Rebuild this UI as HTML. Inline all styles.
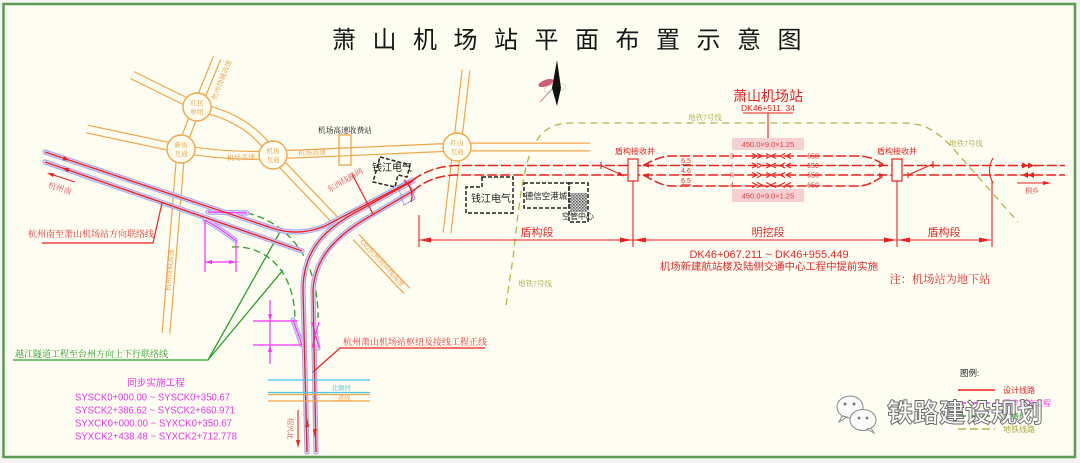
<!DOCTYPE html>
<html><head><meta charset="utf-8">
<style>
html,body{margin:0;padding:0;background:#f4f5f0;width:1080px;height:463px;overflow:hidden;}
svg{display:block;}
text{font-family:"Liberation Sans","Noto Sans CJK SC",sans-serif;}
.f{font-family:"Liberation Serif","Noto Serif CJK SC",serif;}
</style></head><body>
<svg width="1080" height="463" viewBox="0 0 1080 463" xmlns="http://www.w3.org/2000/svg">
<defs>
<path id="r1" d="M217,58 L197,107 L181,149 L166,333"/>
<path id="r2" d="M132,75 L197,107"/>
<path id="r3" d="M87,129 L181,149"/>
<path id="r4" d="M181,149 Q228,157 273,155"/>
<path id="r5" d="M197,107 Q250,118 273,155"/>
<path id="r6" d="M273,155 L457,147"/>
<path id="r7" d="M457,147 L590,147"/>
<path id="r8" d="M466,70 L447,233"/>
<path id="r9" d="M273,155 L335,220"/>
<path id="r10" d="M356,237 L407,291"/>
<path id="t1" d="M45,152 L272,228 Q298,237 325,226 L413,180"/>
<path id="t2" d="M45,162 L302,251"/>
<path id="t3" d="M413,181 L360,210 C325,228 303,250 303,290 L307,452"/>
<path id="t4" d="M413,191 L372,215 C335,236 315,258 313,290 L316,452"/>
<path id="t5" d="M208,212 L247,213"/>
<path id="t6" d="M205,220 Q220,228 235,240"/>
<path id="t7" d="M293,320 L302,345"/>
<path id="t8" d="M313,322 L318,348"/>
<pattern id="hatch" width="3" height="3" patternUnits="userSpaceOnUse">
<rect width="3" height="3" fill="#d8d8d8"/><rect width="1.5" height="1.5" fill="#555"/><rect x="1.5" y="1.5" width="1.5" height="1.5" fill="#777"/>
</pattern>
</defs>

<rect x="0" y="0" width="1080" height="463" fill="#f4f5f0"/>
<rect x="3.5" y="4" width="1071.5" height="453" fill="#fdfdf1" stroke="#5b9b52" stroke-width="2.5"/>

<!-- title -->
<text x="332" y="48" font-size="24" letter-spacing="16.5" fill="#161616">萧山机场站平面布置示意图</text>

<!-- north arrow -->
<ellipse cx="555" cy="88" rx="11" ry="4" fill="none" stroke="#cfcfcf" stroke-width="0.8" transform="rotate(-10 555 88)"/>
<ellipse cx="546" cy="83" rx="8" ry="3.2" fill="#d0607a" transform="rotate(-20 546 83)"/>
<line x1="540" y1="102" x2="553" y2="88" stroke="#c98a9a" stroke-width="1"/>
<polygon points="557,60 552,88 557,106 561,88" fill="#111"/>

<!-- olive metro line 7 -->
<g fill="none" stroke="#b5b54a" stroke-width="1.3" stroke-dasharray="7 5">
<path d="M506,305 L513,258 C518,215 522,165 535,143 C543,130 552,123 572,123 L905,123 C925,124 935,130 950,145 L1018,222"/>
</g>
<text class="f" x="705" y="120" font-size="7.5" fill="#a8a840" text-anchor="middle">地铁7号线</text>
<text class="f" x="966" y="146" font-size="7.5" fill="#a8a840" text-anchor="middle">地铁7号线</text>
<text class="f" x="535" y="286" font-size="7.5" fill="#a8a840" text-anchor="middle">地铁7号线</text>

<!-- roads -->
<g fill="none" stroke="#f1a64a" stroke-width="9">
<use href="#r1"/><use href="#r2"/><use href="#r3"/><use href="#r4"/><use href="#r5"/>
<use href="#r6"/><use href="#r7"/><use href="#r8"/><use href="#r9"/><use href="#r10"/>
</g>
<g fill="none" stroke="#fdfdf1" stroke-width="6.6">
<use href="#r1"/><use href="#r2"/><use href="#r3"/><use href="#r4"/><use href="#r5"/>
<use href="#r6"/><use href="#r7"/><use href="#r8"/><use href="#r9"/><use href="#r10"/>
</g>
<g fill="#fdfdf1" stroke="#f1a64a" stroke-width="1.4">
<circle cx="197" cy="107" r="14"/>
<circle cx="181" cy="149" r="14"/>
<circle cx="273" cy="155" r="14"/>
<circle cx="457" cy="147" r="14"/>
</g>
<rect x="339" y="135" width="12" height="30" fill="none" stroke="#f1a64a" stroke-width="1.3"/>
<g fill="#e99a3a" font-size="6.5" text-anchor="middle">
<text x="197" y="105" class="f">红民</text><text x="197" y="114" class="f">枢纽</text>
<text x="181" y="147" class="f">新街</text><text x="181" y="156" class="f">互通</text>
<text x="273" y="153" class="f">机场</text><text x="273" y="162" class="f">互通</text>
<text x="457" y="145" class="f">红山</text><text x="457" y="154" class="f">互通</text>
<text x="241" y="160" font-size="7" transform="rotate(-2 241 158)" class="f">机场高速</text>
<text x="312" y="155" font-size="7" transform="rotate(-3 312 153)" class="f">机场高速</text>
<text x="222" y="82" font-size="7" transform="rotate(-68 222 80)" class="f">杭州绕城高速</text>
<text x="170" y="272" font-size="7" transform="rotate(-85 170 270)" class="f">杭州绕城高速</text>
<text x="382" y="265" font-size="7" transform="rotate(47 382 263)" class="f">G02杭州湾环线高速</text>
</g>
<text class="f" x="318" y="133" font-size="7.7" fill="#111">机场高速收费站</text>

<!-- buildings -->
<g fill="none" stroke="#222" stroke-width="1.5" stroke-dasharray="4 2">
<polygon points="380,157 410,165 407,177 398,175 395,187 373,182"/>
<polygon points="482,177 513,177 513,213 466,213 466,187 482,187"/>
<rect x="524" y="183" width="45" height="25"/>
<rect x="569" y="183" width="19" height="39"/>
</g>
<rect x="570" y="193" width="17" height="19" fill="url(#hatch)"/>
<g fill="#222" text-anchor="middle">
<text x="392" y="171" font-size="10">钱江电气</text>
<text x="491" y="202" font-size="10">钱江电气</text>
<text x="546" y="199" font-size="8.5">德信空港城</text>
<text x="578" y="219" font-size="8">空管中心</text>
</g>

<!-- green link lines -->
<g stroke="#2c9e2c" fill="none" stroke-width="1.3">
<path d="M13,360 L208,360 L280,232 M208,360 L283,270"/>
<path d="M247,213 C285,222 318,255 318,318" stroke-dasharray="7 4"/>
<path d="M232,247 C265,245 295,270 295,320" stroke-dasharray="7 4"/>
</g>
<text class="f" x="15" y="357" font-size="9" fill="#2a9a2a">越江隧道工程至台州方向上下行联络线</text>

<!-- blue halos -->
<g fill="none" stroke="#a9a9ee" stroke-width="5.2" stroke-linecap="round">
<use href="#t1"/><use href="#t2"/><use href="#t3"/><use href="#t4"/>
<use href="#t5"/><use href="#t6"/><use href="#t7"/><use href="#t8"/>
</g>
<g fill="none" stroke="#dcdcfa" stroke-width="3" stroke-linecap="round">
<use href="#t1"/><use href="#t2"/><use href="#t3"/><use href="#t4"/>
<use href="#t5"/><use href="#t6"/><use href="#t7"/><use href="#t8"/>
</g>
<polygon points="398,186 409,180 415,199 404,205" fill="none" stroke="#9c9cf0" stroke-width="1"/>

<!-- magenta -->
<g stroke="#ff30ff" fill="none" stroke-width="1.2">
<path d="M208,212 L247,213 M205,220 Q220,228 235,240"/>
<path d="M205,220 L205,272 M236,240 L236,272 M205,262 L236,262"/>
<path d="M293,320 L302,345 M312,322 L319,348 M319,322 L312,348"/>
<path d="M253,321 L297,321 M253,345 L302,345 M270,300 L270,364"/>
</g>
<g fill="#ff30ff">
<polygon points="205,262 212,260 212,264"/>
<polygon points="236,262 229,260 229,264"/>
<polygon points="270,321 268,314 272,314"/>
<polygon points="270,345 268,352 272,352"/>
</g>

<!-- red tracks -->
<g fill="none" stroke="#ee2020" stroke-width="1.4">
<use href="#t1"/><use href="#t2"/><use href="#t3"/><use href="#t4"/>
<path d="M404,180 Q415,190 411,202" stroke-width="1.3"/>
<path d="M352,174 L373,214" stroke-width="1.2"/>
</g>
<g fill="none" stroke="#ee2020" stroke-width="1.5" stroke-dasharray="10 3">
<path d="M413,180 Q430,167 455,165.5 L1065,165.5"/>
<path d="M413,191 Q430,176 455,175 L1065,175"/>
<path d="M643,165.5 C655,159 662,156 672,156 L858,156 C868,156 875,159 885,165.5"/>
<path d="M643,175 C655,181 662,186 672,186 L858,186 C868,186 875,181 885,175"/>
</g>
<g fill="#ee2020">
<polygon points="0,0 -7,-2.2 -7,2.2" transform="translate(70,160.4) rotate(18.5)"/>
<polygon points="0,0 7,-2.2 7,2.2" transform="translate(62,167.9) rotate(19)"/>
<polygon points="307,418 305,427 309,427"/>
<polygon points="315,438 313,429 317,429"/>
</g>

<!-- station -->
<rect x="732" y="138" width="72" height="12" fill="#f6cfd2"/>
<rect x="732" y="189" width="72" height="13" fill="#f6cfd2"/>
<g fill="#e04040" font-size="7.5" text-anchor="middle">
<text x="768" y="147">450.0×9.0×1.25</text>
<text x="768" y="198.5">450.0×9.0×1.25</text>
</g>
<rect x="628" y="159" width="10" height="22" fill="#fdfdf1" stroke="#ee2020" stroke-width="1.2"/>
<rect x="892" y="159" width="10" height="22" fill="#fdfdf1" stroke="#ee2020" stroke-width="1.2"/>
<g stroke="#ee2020" fill="none" stroke-width="1.1">
<polyline points="752,153.5 757,156 752,158.5"/><polyline points="757,153.5 762,156 757,158.5"/>
<polyline points="752,163 757,165.5 752,168"/><polyline points="757,163 762,165.5 757,168"/>
<polyline points="752,172.5 757,175 752,177.5"/><polyline points="757,172.5 762,175 757,177.5"/>
<polyline points="752,182.5 757,185 752,187.5"/><polyline points="757,182.5 762,185 757,187.5"/>
<path d="M766,153.5 L776,158.5 M766,158.5 L776,153.5 M766,163 L776,168 M766,168 L776,163 M766,172.5 L776,177.5 M766,177.5 L776,172.5 M766,182.5 L776,187.5 M766,187.5 L776,182.5"/>
<polyline points="785,153.5 780,156 785,158.5"/><polyline points="791,153.5 786,156 791,158.5"/>
<polyline points="785,163 780,165.5 785,168"/><polyline points="791,163 786,165.5 791,168"/>
<polyline points="785,172.5 780,175 785,177.5"/><polyline points="791,172.5 786,175 791,177.5"/>
<polyline points="785,182.5 780,185 785,187.5"/><polyline points="791,182.5 786,185 791,187.5"/>
<path d="M768,113 L768,138 M743,113 L793,113"/>
<path d="M633,181 L633,247 M897,181 L897,247 M992,182 L992,247 M419,215 L419,247"/>
<path d="M419,240 L991,240"/>
<path d="M601,162 L601,169 M601,165.5 L624,176"/>
<path d="M908,175 L933,164 M908,172 L908,178 M933,161 L933,168"/>
<path d="M993,158 Q986,170 993,183"/>
<path d="M1017,183 L1048,183"/>
</g>
<g fill="#ee2020">
<polygon points="643,165.5 649,163.5 649,167.5"/><polygon points="643,175 649,173 649,177"/>
<polygon points="885,165.5 879,163.5 879,167.5"/><polygon points="885,175 879,173 879,177"/>
<polygon points="624,176 617,175.5 619,171.5"/>
<polygon points="419,240 431,237.5 431,242.5"/>
<polygon points="632,240 620,237.5 620,242.5"/>
<polygon points="634,240 646,237.5 646,242.5"/>
<polygon points="896,240 884,237.5 884,242.5"/>
<polygon points="898,240 910,237.5 910,242.5"/>
<polygon points="991,240 979,237.5 979,242.5"/>
<polygon points="1022,162.5 1028,165.5 1022,168.5"/><polygon points="1028,162.5 1034,165.5 1028,168.5"/>
<polygon points="1028,172 1022,175 1028,178"/><polygon points="1034,172 1028,175 1034,178"/>
<polygon points="1051,183 1043,181 1043,185"/>
</g>
<g fill="#e63030" font-size="7">
<text x="686" y="163" text-anchor="middle" text-decoration="underline">6.5</text>
<text x="686" y="173" text-anchor="middle" text-decoration="underline">4.6</text>
<text x="686" y="183" text-anchor="middle" text-decoration="underline">6.5</text>
<text x="732" y="158.5" text-anchor="middle">3</text>
<text x="732" y="168" text-anchor="middle">I</text>
<text x="732" y="177.5" text-anchor="middle">II</text>
<text x="732" y="187.5" text-anchor="middle">4</text>
<text x="813" y="158.5" text-anchor="middle">650</text>
<text x="813" y="168" text-anchor="middle">650</text>
<text x="813" y="177.5" text-anchor="middle">650</text>
<text x="813" y="187.5" text-anchor="middle">650</text>
</g>
<text x="768" y="101" font-size="14" fill="#e52222" text-anchor="middle">萧山机场站</text>
<text x="768" y="111" font-size="8.5" fill="#e52222" text-anchor="middle">DK46+511. 34</text>
<text x="635" y="154" font-size="8" fill="#e52222" text-anchor="middle">盾构接收井</text>
<text x="897" y="154" font-size="8" fill="#e52222" text-anchor="middle">盾构接收井</text>
<text class="f" x="1032" y="193" font-size="7" fill="#e04040" text-anchor="middle">桐乡</text>

<g fill="#e52a2a" text-anchor="middle">
<text x="537" y="236" font-size="11">盾构段</text>
<text x="768" y="236" font-size="11">明挖段</text>
<text x="944" y="236" font-size="11">盾构段</text>
<text x="769" y="258" font-size="11">DK46+067.211 ~ DK46+955.449</text>
<text x="769" y="270" font-size="10.4">机场新建航站楼及陆侧交通中心工程中提前实施</text>
<text class="f" x="940" y="283" font-size="11.2">注：机场站为地下站</text>
</g>

<!-- left red labels -->
<text class="f" x="28" y="237" font-size="9" fill="#e03535">杭州南至萧山机场站方向联络线</text>
<path d="M42,243 L153,243 L162,203" fill="none" stroke="#ee2020" stroke-width="1.2"/>
<path d="M49,173.6 L75,182" fill="none" stroke="#ee2020" stroke-width="1.1"/>
<polygon points="0,0 7,-2 7,2" transform="translate(47,173) rotate(18)" fill="#ee2020"/>
<text class="f" x="60" y="191" font-size="8" fill="#e04a5a" text-anchor="middle" transform="rotate(18 60 188)">杭州南</text>
<text class="f" x="345" y="183" font-size="8" fill="#e84a5a" text-anchor="middle" transform="rotate(-30 345 180)">东西线路网</text>
<text class="f" x="343" y="345" font-size="9" fill="#e03535">杭州萧山机场站枢纽及接线工程正线</text>
<path d="M313,372 L340,348 L485,348" fill="none" stroke="#ee2020" stroke-width="1.2"/>
<path d="M298,410 L298,441" stroke="#ee2020" stroke-width="1.1"/>
<polygon points="298,448 296,440 300,440" fill="#ee2020"/>
<text class="f" x="288" y="418" font-size="7" fill="#e04040" transform="rotate(90 288 418)">绍兴北</text>

<!-- rivers -->
<g stroke-width="1.2">
<line x1="268" y1="380" x2="370" y2="380" stroke="#44c8ee"/>
<line x1="268" y1="392.5" x2="370" y2="392.5" stroke="#44c8ee"/>
<line x1="268" y1="394.5" x2="370" y2="394.5" stroke="#f1a64a"/>
<line x1="268" y1="401" x2="370" y2="401" stroke="#f1a64a"/>
</g>
<text class="f" x="341" y="390" font-size="6.5" fill="#33b5e0" text-anchor="middle">北塘河</text>
<text class="f" x="341" y="400" font-size="6.3" fill="#e99a3a" text-anchor="middle">三底线</text>

<!-- synchronous works -->
<g fill="#e838e8" font-size="10">
<text x="156" y="386" font-size="9.6" text-anchor="middle">同步实施工程</text>
<text x="75" y="400.5" textLength="155" lengthAdjust="spacingAndGlyphs">SYSCK0+000.00 ~ SYSCK0+350.67</text>
<text x="75" y="413.5" textLength="160" lengthAdjust="spacingAndGlyphs">SYSCK2+386.62 ~ SYSCK2+660.971</text>
<text x="75" y="426.5" textLength="157" lengthAdjust="spacingAndGlyphs">SYXCK0+000.00 ~ SYXCK0+350.67</text>
<text x="75" y="439.5" textLength="162" lengthAdjust="spacingAndGlyphs">SYXCK2+438.48 ~ SYXCK2+712.778</text>
</g>

<!-- legend -->
<text x="960" y="376" font-size="8.5" fill="#222">图例:</text>
<line x1="958" y1="390" x2="995" y2="390" stroke="#ee2020" stroke-width="1.6"/>
<line x1="958" y1="403" x2="995" y2="403" stroke="#ff30ff" stroke-width="1.6" stroke-dasharray="8 4"/>
<line x1="958" y1="416" x2="995" y2="416" stroke="#2c9e2c" stroke-width="1.6" stroke-dasharray="8 4"/>
<line x1="958" y1="429" x2="995" y2="429" stroke="#b5b54a" stroke-width="1.6" stroke-dasharray="8 4"/>
<text x="1003" y="393" font-size="8" fill="#e52222">设计线路</text>
<text x="1003" y="406" font-size="8" fill="#ff30ff">同步实施工程</text>
<text x="1003" y="419" font-size="8" fill="#2c9e2c">联络线</text>
<text x="1003" y="432" font-size="8" fill="#a8a840">地铁线路</text>

<!-- watermark -->
<g stroke="#8a8a8a" stroke-width="1" fill="#fafafa">
<ellipse cx="850" cy="407" rx="13" ry="11"/>
<path d="M842,416 L839,422 L847,417 Z"/>
<ellipse cx="863" cy="420" rx="13" ry="10.5"/>
<path d="M871,428 L874,433 L867,429 Z"/>
</g>
<g fill="#777"><circle cx="845" cy="404" r="1.5"/><circle cx="854" cy="404" r="1.5"/><circle cx="859" cy="418" r="1.4"/><circle cx="867" cy="418" r="1.4"/></g>
<text x="887" y="422" font-size="26" fill="#f8f8f8" stroke="#666" stroke-width="0.9" font-weight="bold">铁路建设规划</text>
</svg>
</body></html>
